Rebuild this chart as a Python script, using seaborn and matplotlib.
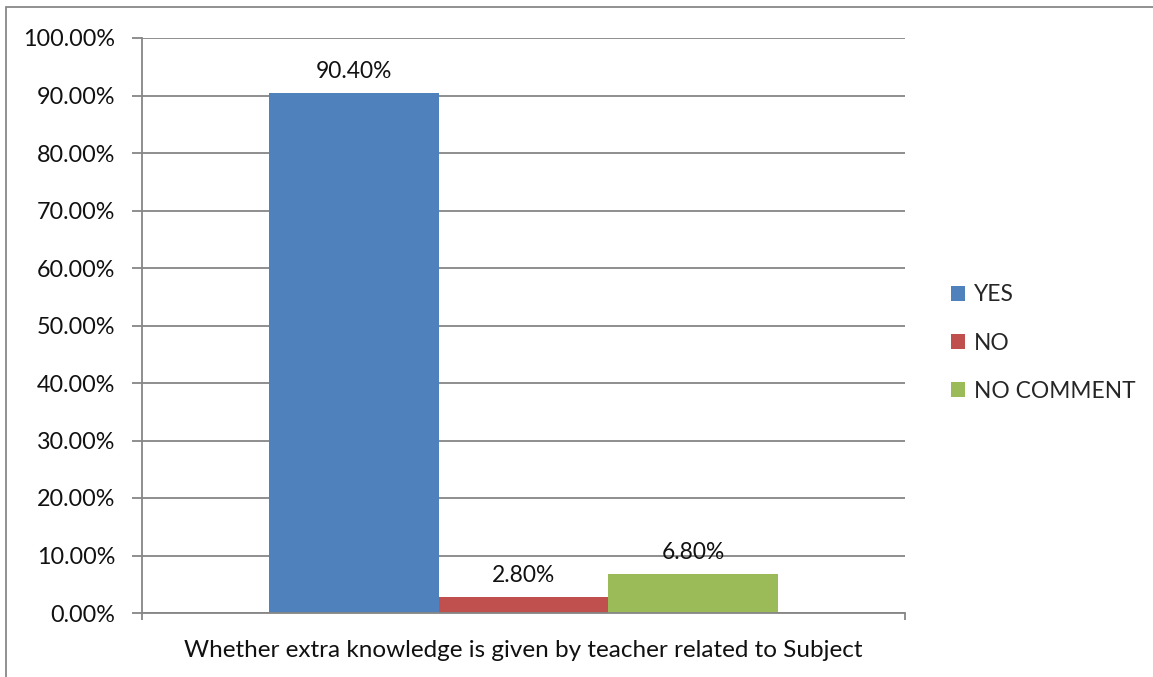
import numpy as np
import pandas as pd
import matplotlib
matplotlib.use('Agg')
import matplotlib.pyplot as plt
import matplotlib.patches as patches
import seaborn as sns

# data
question = ['Whether extra knowledge is given by teacher related to Subject']
answers = ['YES', 'NO', 'NO COMMENT']
percent = [90.40, 2.80, 6.80]
colours = ['#4F81BD', '#C0504D', '#9BBB59']
yticks = np.arange(0, 101, 10)

df = pd.DataFrame({'question': question * len(answers), 'answer': answers, 'pct': percent})

sns.set_style('white')
plt.rcParams['font.family'] = ['Lato', 'DejaVu Sans']
fs = 16.4

fig = plt.figure(figsize=(11.53, 6.77), dpi=100)
ax = fig.add_axes([142 / 1153, 1 - 613 / 677, (905 - 142) / 1153, (613 - 38) / 677])

sns.barplot(data=df, x='question', y='pct', hue='answer', palette=colours,
            width=0.666, saturation=1, linewidth=0, ax=ax, legend=True)

for cont in ax.containers:
    ax.bar_label(cont, fmt='%.2f%%', padding=8, fontsize=fs, color='#111111')

ax.set_ylim(0, 100)
ax.set_xlim(-0.5, 0.5)
ax.set_yticks(yticks)
ax.set_yticklabels([f'{v:.2f}%' for v in yticks], fontsize=16.8, color='#111111')
ax.yaxis.grid(True, color='#868686', lw=1.3)
ax.set_axisbelow(True)
ax.set_xticks([-0.5, 0.5])
ax.set_xticklabels(['', ''])
ax.set_xlabel(question[0], fontsize=17.5, labelpad=11, color='#111111')
ax.set_ylabel('')
ax.tick_params(axis='y', direction='out', length=7, width=1.3, color='#868686', pad=12, left=True)
ax.tick_params(axis='x', direction='out', length=5, width=1.3, color='#868686', bottom=True)
for side in ['top', 'right']:
    ax.spines[side].set_visible(False)
for side in ['left', 'bottom']:
    ax.spines[side].set_color('#868686')
    ax.spines[side].set_linewidth(1.3)

ax.legend(loc='center left', bbox_to_anchor=(930 / 1153, 1 - 343 / 677), bbox_transform=fig.transFigure,
          frameon=False, fontsize=fs, handlelength=0.62, handleheight=0.62, handletextpad=0.4,
          labelspacing=1.2, title=None)

# outer chart border (cropped at right/bottom)
fig.add_artist(patches.Rectangle((6 / 1153, -0.1), 1.2, 1 - 7 / 677 + 0.1, transform=fig.transFigure,
                                 fill=False, edgecolor='#888888', lw=1.3))

fig.savefig('out.png', dpi=100)
